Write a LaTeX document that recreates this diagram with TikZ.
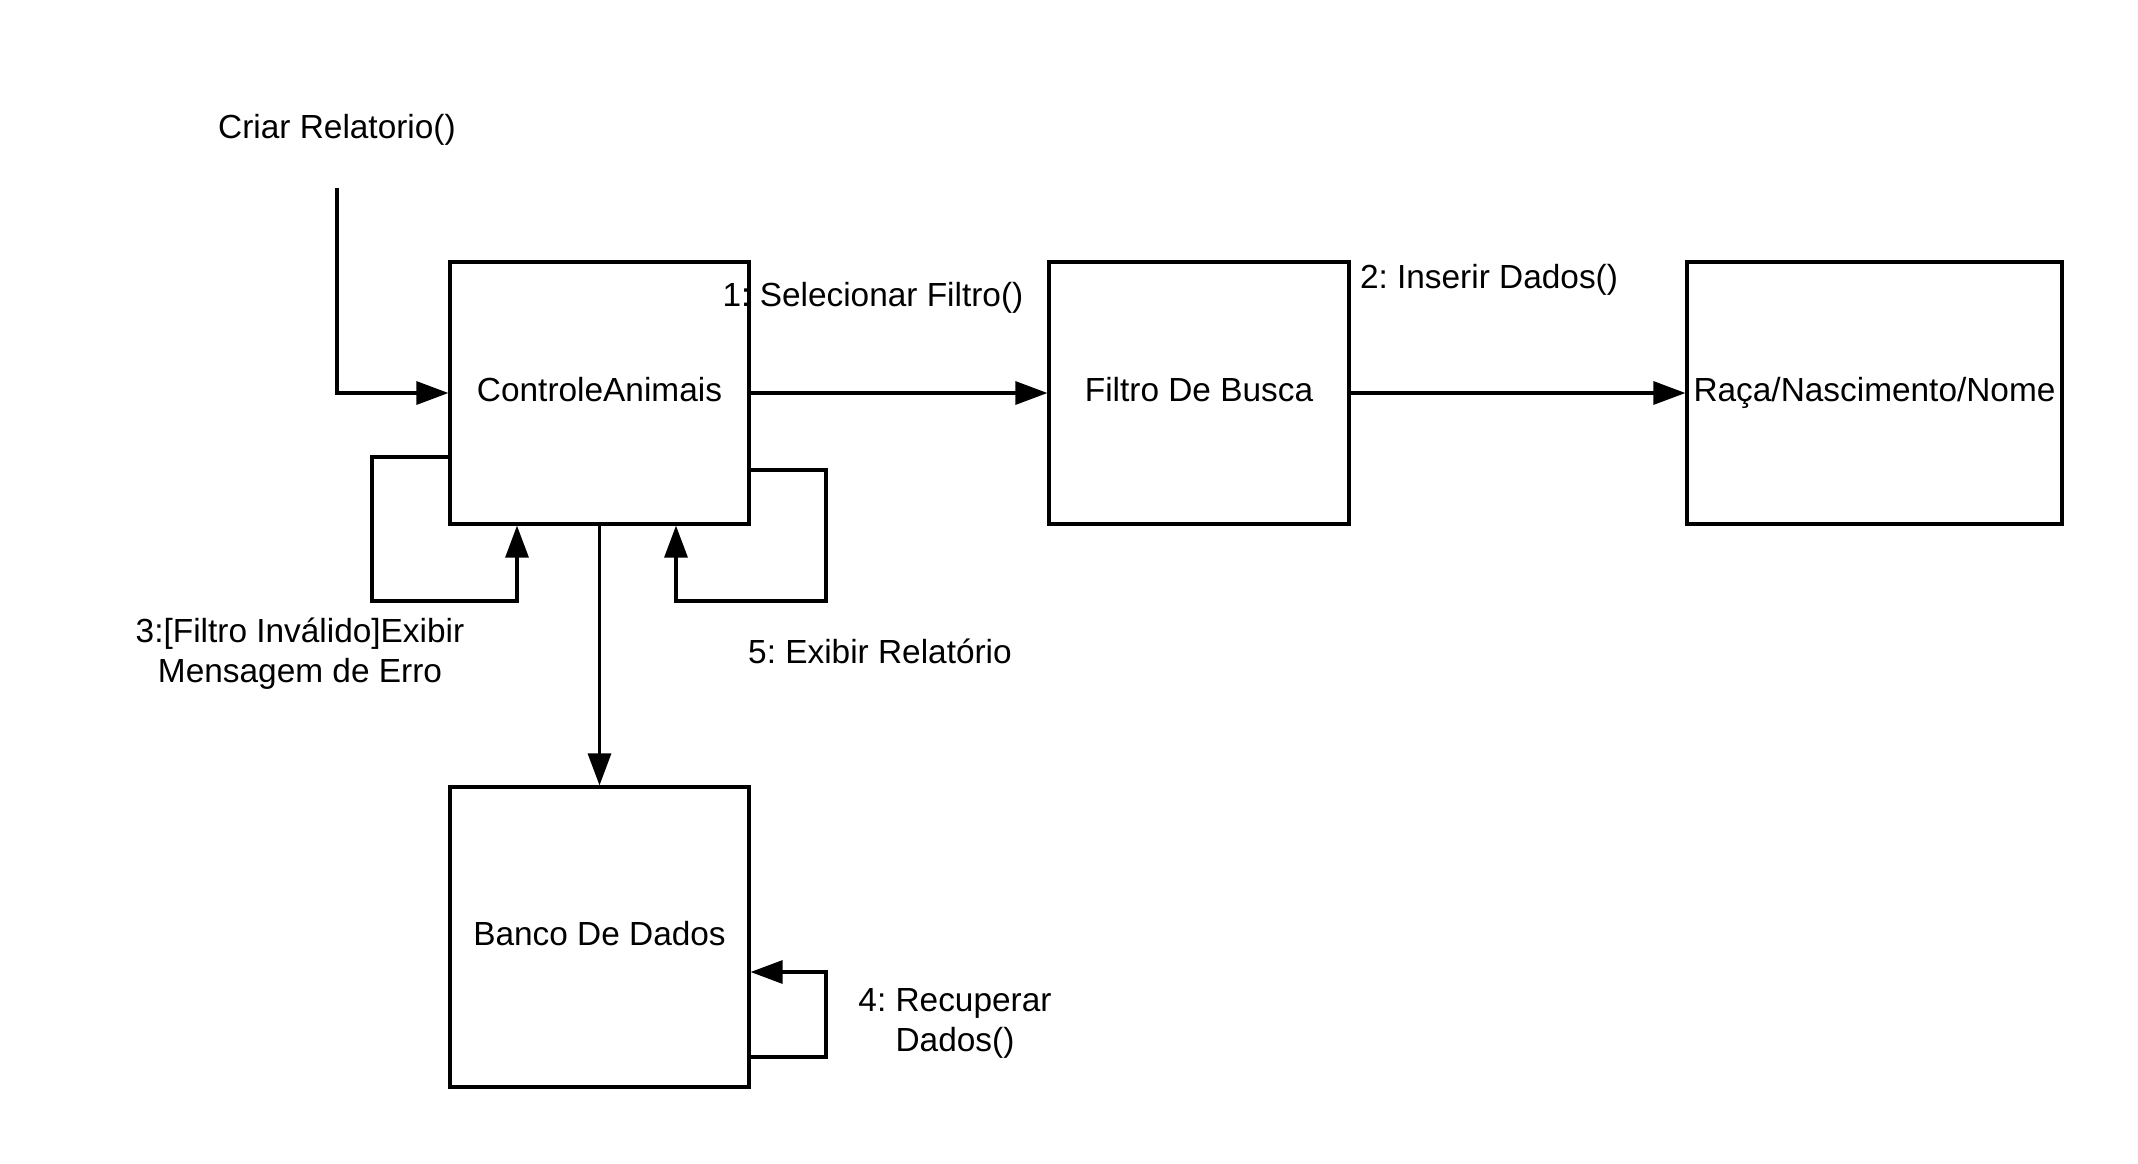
\documentclass[tikz,border=0pt]{standalone}
\usepackage{fontspec}
\setmainfont{Liberation Sans}
\usetikzlibrary{arrows.meta}
\frenchspacing
\begin{document}
\begin{tikzpicture}[x=0.5pt,y=-0.5pt,
  box/.style={draw, line width=1.6pt, rectangle, inner sep=0pt, align=center, text depth=4pt},
  conn/.style={line width=1.6pt},
  arr/.style={conn, -{Triangle[length=16pt,width=11.5pt]}},
  lbl/.style={inner sep=0pt, align=center},
  every node/.style={font=\fontsize{16.7pt}{20pt}\selectfont\frenchspacing}]
\useasboundingbox[fill=white] (0,0) rectangle (2138,1163);
\node[box, minimum width=149.5pt, minimum height=131pt] (ca) at (599.5,393) {ControleAnimais};
\node[box, minimum width=150pt, minimum height=131pt] (fb) at (1199,393) {Filtro De Busca};
\node[box, minimum width=187.5pt, minimum height=131pt] (rn) at (1874.5,393) {Raça/Nascimento/Nome};
\node[box, minimum width=149.5pt, minimum height=150pt] (bd) at (599.5,937) {Banco De Dados};
\node[lbl] (t0) at (337,130) {Criar Relatorio()};
\node[lbl] (t1) at (873,298) {1: Selecionar Filtro()};
\node[lbl] (t2) at (1489,280) {2: Inserir Dados()};
\node[lbl] (t3) at (300,654) {3:[Filtro Inválido]Exibir\\Mensagem de Erro};
\node[lbl] (t5) at (880,651) {5: Exibir Relatório};
\node[lbl] (t4) at (955,1023) {4: Recuperar\\Dados()};
\coordinate (s0) at (337,188);
\draw[arr] (s0) |- (ca.west);
\draw[arr] (ca.east) -- (fb.west);
\draw[arr] (fb.east) -- (rn.west);
\draw[arr] (ca.south) -- (bd.north);
\draw[arr] (ca.west |- 0,457) -| (372,601) -| (ca.south -| 517,0);
\draw[arr] (ca.east |- 0,470) -| (826,601) -| (ca.south -| 676,0);
\draw[arr] (bd.east |- 0,1057) -| (826,972) -- (bd.east |- 0,972);
\end{tikzpicture}
\end{document}
